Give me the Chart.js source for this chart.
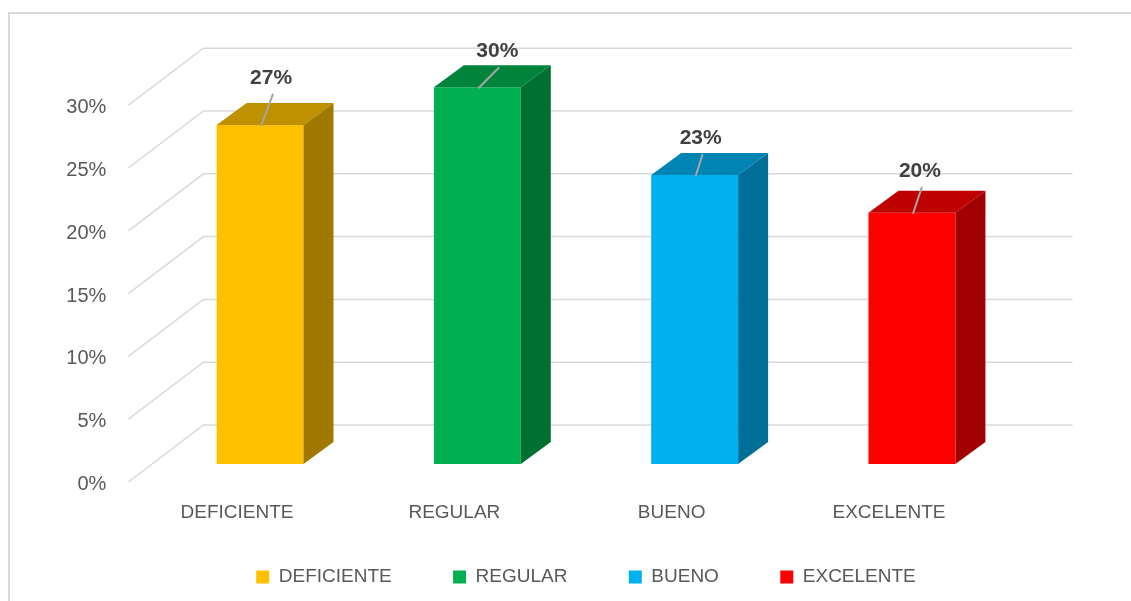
<!DOCTYPE html>
<html lang="es">
<head>
<meta charset="utf-8">
<title>Nivel</title>
<script src="https://cdn.jsdelivr.net/npm/chart.js@4.4.1/dist/chart.umd.min.js"></script>
<style>
    html, body { margin: 0; padding: 0; background: #fff; }
    #wrap { position: relative; width: 1131px; height: 601px; overflow: hidden; }
</style>
</head>
<body>
<div id="wrap"><canvas id="chart" width="1131" height="601"></canvas></div>
<script>
const categories = ['DEFICIENTE', 'REGULAR', 'BUENO', 'EXCELENTE'];
const percentages = [27, 30, 23, 20];
const yTickValues = [0, 5, 10, 15, 20, 25, 30];
const barColors = ['#FFC000', '#00B050', '#00B0F0', '#FF0000'];
// where each value label was dragged to, relative to the top of its bar (px)
const labelNudge = [[11, -47], [20, -36], [6, -37], [8, -42]];

const FONT = '"Liberation Sans", Arial, sans-serif';
const TEXT_GREY = '#595959';
const WALL = { dx: 52, dy: -39 };   // bar front plane -> back wall
const FLOOR = { dx: -75, dy: 57 };  // back wall -> front edge of floor
const DEPTH = { dx: 30, dy: -22 };  // depth of each bar

function shade(hex, f) {
    const n = parseInt(hex.slice(1), 16);
    const r = Math.round(((n >> 16) & 255) * f);
    const g = Math.round(((n >> 8) & 255) * f);
    const b = Math.round((n & 255) * f);
    return `rgb(${r},${g},${b})`;
}

// fake 3D: back wall grid, side wall diagonals, bar top/side faces, value labels
const frame3d = {
    id: 'frame3d',
    beforeDraw(chart) {
        const ctx = chart.ctx;
        ctx.save();
        ctx.strokeStyle = '#d9d9d9';
        ctx.lineWidth = 2;
        ctx.strokeRect(9, 13, chart.width + 20, chart.height + 20);
        ctx.restore();
    },
    beforeDatasetsDraw(chart) {
        const { ctx, chartArea: a, scales: { y } } = chart;
        ctx.save();
        ctx.strokeStyle = '#d9d9d9';
        ctx.lineWidth = 1.5;
        yTickValues.forEach(v => {
            const yb = y.getPixelForValue(v) + WALL.dy;
            const xb = a.left + WALL.dx;
            ctx.beginPath();
            ctx.moveTo(xb + FLOOR.dx, yb + FLOOR.dy);
            ctx.lineTo(xb, yb);
            ctx.lineTo(a.right + WALL.dx, yb);
            ctx.stroke();
        });
        ctx.restore();
    },
    afterDatasetsDraw(chart) {
        const ctx = chart.ctx;
        const meta = chart.getDatasetMeta(0);
        ctx.save();
        meta.data.forEach((bar, i) => {
            const { x, y, base, width } = bar.getProps(['x', 'y', 'base', 'width'], true);
            const l = x - width / 2, r = x + width / 2;

            // top face
            ctx.fillStyle = shade(barColors[i], 0.75);
            ctx.beginPath();
            ctx.moveTo(l, y);
            ctx.lineTo(r, y);
            ctx.lineTo(r + DEPTH.dx, y + DEPTH.dy);
            ctx.lineTo(l + DEPTH.dx, y + DEPTH.dy);
            ctx.closePath();
            ctx.fill();

            // side face
            ctx.fillStyle = shade(barColors[i], 0.63);
            ctx.beginPath();
            ctx.moveTo(r, y);
            ctx.lineTo(r + DEPTH.dx, y + DEPTH.dy);
            ctx.lineTo(r + DEPTH.dx, base + DEPTH.dy);
            ctx.lineTo(r, base);
            ctx.closePath();
            ctx.fill();

            // leader line + label
            const lx = x + labelNudge[i][0], ly = y + labelNudge[i][1];
            ctx.strokeStyle = '#a6a6a6';
            ctx.lineWidth = 2;
            ctx.beginPath();
            ctx.moveTo(lx + 2, ly + 16);
            ctx.lineTo(x + 1, y + 1);
            ctx.stroke();

            ctx.fillStyle = '#404040';
            ctx.font = `bold 21px ${FONT}`;
            ctx.textAlign = 'center';
            ctx.textBaseline = 'middle';
            ctx.fillText(percentages[i] + '%', lx, ly);
        });
        ctx.restore();
    }
};

new Chart(document.getElementById('chart'), {
    type: 'bar',
    data: {
        labels: categories,
        datasets: [{
            data: percentages,
            backgroundColor: barColors,
            borderWidth: 0,
            barPercentage: 0.4,
            categoryPercentage: 1,
            clip: false
        }]
    },
    options: {
        responsive: false,
        animation: false,
        layout: { padding: { left: 41, right: 0, top: 87.2, bottom: 4.5 } },
        plugins: {
            tooltip: { enabled: false },
            legend: {
                position: 'bottom',
                labels: {
                    boxWidth: 13,
                    boxHeight: 13,
                    padding: 35,
                    color: TEXT_GREY,
                    font: { family: FONT, size: 19 },
                    // trailing spaces widen the gap between items without growing the legend height
                    generateLabels: () => categories.map((c, i) => ({
                        text: i < categories.length - 1 ? c + '     ' : c,
                        fillStyle: barColors[i],
                        strokeStyle: barColors[i],
                        fontColor: TEXT_GREY,
                        lineWidth: 0,
                        hidden: false,
                        index: i
                    }))
                }
            }
        },
        scales: {
            x: {
                grid: { display: false },
                border: { display: false },
                ticks: {
                    color: TEXT_GREY,
                    font: { family: FONT, size: 19 },
                    padding: 29,
                    labelOffset: -23
                },
                afterFit: s => { s.height = 68.5; }
            },
            y: {
                min: 0,
                max: 30,
                grid: { display: false },
                border: { display: false },
                afterBuildTicks: s => { s.ticks = yTickValues.map(v => ({ value: v })); },
                ticks: {
                    color: TEXT_GREY,
                    font: { family: FONT, size: 20 },
                    padding: 37,
                    labelOffset: 20.5,
                    callback: v => v + '%'
                },
                afterFit: s => { s.width = 110.4; }
            },
            // empty right axis, only keeps room for the 3D depth on the right
            yRight: {
                position: 'right',
                grid: { display: false },
                border: { display: false },
                ticks: { display: false },
                afterFit: s => { s.width = 110.4; }
            }
        }
    },
    plugins: [frame3d]
});
</script>
</body>
</html>
